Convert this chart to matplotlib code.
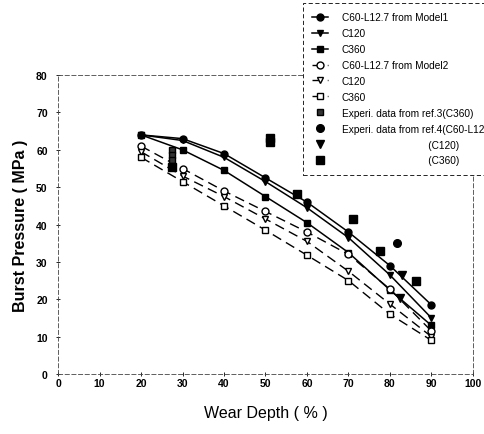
import numpy as np
import matplotlib.pyplot as plt

plt.rcParams['font.family'] = ['Liberation Sans', 'DejaVu Sans']

# wear depth (%) for the model curves
depth = [20, 30, 40, 50, 60, 70, 80, 90]

# Model1 (solid)
m1_c60 = [64, 63, 59, 52.5, 46, 38, 29, 18.5]
m1_c120 = [64, 62.5, 58, 51.5, 44.5, 36.5, 26.5, 15]
m1_c360 = [64, 60, 54.5, 47.5, 40.5, 32.5, 22.5, 13]

# Model2 (dashed)
m2_c60 = [61, 55, 49, 43.5, 38, 32, 22.7, 11.5]
m2_c120 = [59.5, 53, 47.5, 41.5, 35.5, 27.5, 18.7, 10]
m2_c360 = [58, 51.5, 45, 38.5, 31.8, 25, 16, 9]

# experimental points
ref3_x = [27.5, 27.5, 27.5]
ref3_y = [60, 58.6, 57.2]
ref4_c60_x = [81.6]
ref4_c60_y = [35]
ref4_c120_x = [83, 82.4]
ref4_c120_y = [26.5, 20.3]
ref4_c360_x = [27.5, 51, 51, 57.5, 71.2, 77.6, 86.2]
ref4_c360_y = [55.5, 63.3, 62, 48.3, 41.6, 33, 25]

fig = plt.figure(figsize=(4.84, 4.35), dpi=100)
ax = fig.add_axes([0.12, 0.138, 0.857, 0.687])

ms = 5
ax.plot(depth, m1_c60, 'k-', marker='o', ms=ms, lw=1.1, label='C60-L12.7 from Model1')
ax.plot(depth, m1_c120, 'k-', marker='v', ms=ms, lw=1.1, label='C120')
ax.plot(depth, m1_c360, 'k-', marker='s', ms=ms - 0.5, lw=1.1, label='C360')

dash = (0, (7, 4))
ax.plot(depth, m2_c60, color='k', ls=dash, marker='o', mfc='white', ms=ms, lw=1,
        label='C60-L12.7 from Model2')
ax.plot(depth, m2_c120, color='k', ls=dash, marker='v', mfc='white', ms=ms, lw=1,
        label='C120')
ax.plot(depth, m2_c360, color='k', ls=dash, marker='s', mfc='white', ms=ms - 0.5, lw=1,
        label='C360')

ax.plot(ref3_x, ref3_y, ls='none', marker='s', ms=4, mfc='#333333', mec='k',
        label='Experi. data from ref.3(C360)')
ax.plot(ref4_c60_x, ref4_c60_y, ls='none', marker='o', ms=5.5, color='k',
        label='Experi. data from ref.4(C60-L12.7)')
ax.plot(ref4_c120_x, ref4_c120_y, ls='none', marker='v', ms=5.5, color='k',
        label='                              (C120)')
ax.plot(ref4_c360_x, ref4_c360_y, ls='none', marker='s', ms=5.5, color='k',
        label='                              (C360)')

ax.set_xlim(0, 100)
ax.set_ylim(0, 80)
ax.set_xticks(np.arange(0, 101, 10))
ax.set_yticks(np.arange(0, 81, 10))
for lbl in ax.get_xticklabels() + ax.get_yticklabels():
    lbl.set_fontweight('bold')
    lbl.set_fontsize(7.5)
ax.tick_params(direction='inout', length=3, width=0.6)
ax.yaxis.set_tick_params(pad=6)
ax.xaxis.set_tick_params(pad=1.5)

for s in ax.spines.values():
    s.set_linestyle((0, (5, 3)))
    s.set_linewidth(0.6)
    s.set_color('#444444')

ax.set_xlabel('Wear Depth ( % )', fontsize=11.5, labelpad=12)
ax.set_ylabel('Burst Pressure ( MPa )', fontsize=11.5, fontweight='bold', labelpad=6)

leg = fig.legend(loc='upper left', bbox_to_anchor=(0.626, 0.99), fontsize=7.3,
                 handlelength=1.6, labelspacing=0.58, frameon=True, fancybox=False,
                 borderaxespad=0, handletextpad=1.3, borderpad=0.9, framealpha=1)
frame = leg.get_frame()
frame.set_edgecolor('k')
frame.set_linewidth(0.6)
frame.set_linestyle((0, (5, 3)))

fig.savefig('out.png', dpi=100)
